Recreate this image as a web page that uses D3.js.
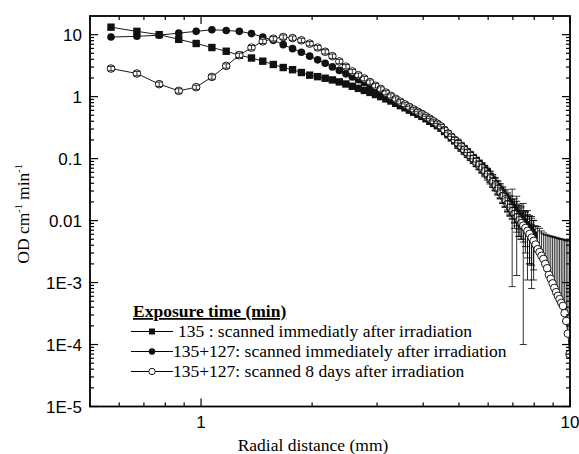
<!DOCTYPE html>
<html>
<head>
<meta charset="utf-8">
<script src="https://cdn.jsdelivr.net/npm/d3@7"></script>
<style>
  body { margin: 0; background: #fff; }
  svg { display: block; }
  .serif { font-family: 'Liberation Serif', 'Times New Roman', Times, serif; }
  .sans { font-family: 'Liberation Sans', Arial, Helvetica, sans-serif; }
</style>
</head>
<body>
<svg id="chart" width="579" height="454"></svg>
<script>
// radial distance (mm), sampled every 0.1 mm
const radius = [0.57, 0.67, 0.77, 0.87, 0.97, 1.07, 1.17, 1.27, 1.37, 1.47,
  1.57, 1.67, 1.77, 1.87, 1.97, 2.07, 2.17, 2.27, 2.37, 2.47,
  2.57, 2.67, 2.77, 2.87, 2.97, 3.07, 3.17, 3.27, 3.37, 3.47,
  3.57, 3.67, 3.77, 3.87, 3.97, 4.07, 4.17, 4.27, 4.37, 4.47,
  4.57, 4.67, 4.77, 4.87, 4.97, 5.07, 5.17, 5.27, 5.37, 5.47,
  5.57, 5.67, 5.77, 5.87, 5.97, 6.07, 6.17, 6.27, 6.37, 6.47,
  6.57, 6.67, 6.77, 6.87, 6.97, 7.07, 7.17, 7.27, 7.37, 7.47,
  7.57, 7.67, 7.77, 7.87, 7.97, 8.07, 8.17, 8.27, 8.37, 8.47,
  8.57, 8.67, 8.77, 8.87, 8.97, 9.07, 9.17, 9.27, 9.37, 9.47,
  9.57, 9.67, 9.77, 9.87, 9.97];

// 135 min, scanned immediately
const od135 = [13.2, 11.3, 10.0, 8.4, 7.2, 6.2, 5.4, 4.65, 4.2, 3.73,
  3.3, 2.95, 2.72, 2.45, 2.22, 2.1, 1.98, 1.86, 1.73, 1.6,
  1.47, 1.36, 1.26, 1.17, 1.08, 1.0, 0.92, 0.85, 0.78, 0.715,
  0.66, 0.605, 0.56, 0.52, 0.48, 0.44, 0.40, 0.37, 0.34, 0.31,
  0.274, 0.243, 0.216, 0.193, 0.172, 0.154, 0.139, 0.124, 0.111, 0.0996,
  0.0895, 0.0805, 0.0727, 0.0657, 0.0594, 0.0518, 0.0452, 0.0394, 0.0346, 0.0303,
  0.0266, 0.0235, 0.0208, 0.0185, 0.0164, 0.0146, 0.0130, 0.0116, 0.0105, 0.0095,
  0.0086, 0.0078, 0.0070, 0.0064, 0.0058];
const err135 = [0, 0, 0, 0, 0, 0, 0, 0, 0, 0,
  0, 0, 0, 0, 0, 0, 0, 0, 0, 0,
  0, 0, 0, 0, 0, 0, 0, 0, 0, 0,
  0, 0, 0, 0, 0, 0, 0, 0, 0, 0,
  0, 0, 0, 0, 0.025, 0.022, 0.02, 0.019, 0.017, 0.015,
  0.014, 0.013, 0.012, 0.011, 0.010, 0.010, 0.009, 0.008, 0.0075, 0.007,
  0.0068, 0.0065, 0.006, 0.0058, 0.0055, 0.0055, 0.0117, 0.006, 0.0055, 0.005,
  0.0048, 0.0067, 0.005, 0.0045, 0.0042];

// 135+127 min, scanned immediately
const od262 = [9.15, 9.4, 9.8, 10.6, 11.3, 12.0, 11.7, 11.3, 10.4, 9.15,
  8.1, 6.9, 5.95, 5.2, 4.5, 3.92, 3.45, 3.02, 2.65, 2.33,
  2.08, 1.87, 1.69, 1.51, 1.35, 1.22, 1.09, 0.99, 0.9, 0.82,
  0.745, 0.68, 0.62, 0.565, 0.52, 0.47, 0.43, 0.395, 0.36, 0.325,
  0.285, 0.25, 0.222, 0.198, 0.176, 0.157, 0.14, 0.125, 0.112, 0.1,
  0.09, 0.081, 0.073, 0.066, 0.059, 0.052, 0.045, 0.04, 0.035, 0.031,
  0.027, 0.024, 0.021, 0.0185, 0.0165, 0.015, 0.0135, 0.012, 0.011, 0.0095,
  0.0085, 0.0075, 0.0068, 0.0062, 0.0056];
const err262 = [0, 0, 0, 0, 0, 0, 0, 0, 0, 0,
  0, 0, 0, 0, 0, 0, 0, 0, 0, 0,
  0, 0, 0, 0, 0, 0, 0, 0, 0, 0,
  0, 0, 0, 0, 0, 0, 0, 0, 0, 0,
  0, 0, 0, 0, 0.03, 0.026, 0.024, 0.021, 0.019, 0.017,
  0.016, 0.014, 0.013, 0.012, 0.011, 0.011, 0.01, 0.0095, 0.009, 0.0085,
  0.008, 0.0075, 0.007, 0.0068, 0.01564, 0.0075, 0.007, 0.0065, 0.006, 0.0094,
  0.0055, 0.005, 0.0048, 0.0054, 0.0045];

// 135+127 min, scanned 8 days later
const od262late = [2.84, 2.36, 1.59, 1.24, 1.42, 2.08, 3.13, 4.66, 6.18, 7.8,
  8.6, 9.15, 8.8, 8.1, 7.17, 6.2, 5.3, 4.5, 3.7, 3.05,
  2.55, 2.22, 1.96, 1.72, 1.5, 1.33, 1.16, 1.03, 0.92, 0.83,
  0.75, 0.68, 0.62, 0.57, 0.525, 0.48, 0.44, 0.4, 0.365, 0.33,
  0.29, 0.255, 0.225, 0.2, 0.178, 0.158, 0.14, 0.125, 0.112, 0.1,
  0.089, 0.079, 0.07, 0.062, 0.055, 0.048, 0.042, 0.037, 0.0325, 0.0285,
  0.025, 0.022, 0.0185, 0.0163, 0.0143, 0.0128, 0.0113, 0.0101, 0.0091, 0.0083,
  0.0076, 0.0068, 0.0061, 0.0053, 0.0047, 0.0041, 0.00345, 0.0031, 0.0027, 0.0024,
  0.0020, 0.0017, 0.00133, 0.00115, 0.00097, 0.00082, 0.0007, 0.00061, 0.00054, 0.00047,
  0.00042, 0.00032, 0.00024, 0.00015, 0.00007];
const errLowLate = [0.23, 0.19, 0.13, 0.10, 0.11, 0.17, 0.25, 0.37, 0.49, 0.62,
  0.69, 0.73, 0.70, 0.65, 0.57, 0.50, 0.42, 0.36, 0.30, 0.24,
  0.20, 0.18, 0.16, 0.14, 0.12, 0.11, 0.09, 0.08, 0.074, 0.066,
  0.06, 0.054, 0.05, 0.046, 0.042, 0.038, 0.035, 0.032, 0.029, 0.026,
  0.029, 0.026, 0.023, 0.02, 0.018, 0.016, 0.015, 0.014, 0.013, 0.012,
  0.014, 0.013, 0.012, 0.011, 0.010, 0.009, 0.008, 0.007, 0.0065, 0.006,
  0.0062, 0.0056, 0.0048, 0.0042, 0.0038, 0.0034, 0.0031, 0.0028, 0, 0,
  0, 0, 0, 0, 0, 0, 0, 0, 0, 0,
  0, 0, 0, 0, 0, 0, 0, 0, 0, 0,
  0, 0, 0, 0, 0];
const errHighLate = [0.23, 0.19, 0.13, 0.10, 0.11, 0.17, 0.25, 0.37, 0.49, 0.62,
  0.69, 0.73, 0.70, 0.65, 0.57, 0.50, 0.42, 0.36, 0.30, 0.24,
  0.20, 0.18, 0.16, 0.14, 0.12, 0.11, 0.09, 0.08, 0.074, 0.066,
  0.06, 0.054, 0.05, 0.046, 0.042, 0.038, 0.035, 0.032, 0.029, 0.026,
  0.029, 0.026, 0.023, 0.02, 0.018, 0.016, 0.015, 0.014, 0.013, 0.012,
  0.014, 0.013, 0.012, 0.011, 0.010, 0.009, 0.008, 0.007, 0.0065, 0.006,
  0.0062, 0.0056, 0.0048, 0.0042, 0.0038, 0.0034, 0.0031, 0.0028, 0.004, 0.0037,
  0.0029, 0.0027, 0.0027, 0.0032, 0.0035, 0.0041, 0.00455, 0.0044, 0.0041, 0.0039,
  0.0040, 0.0041, 0.00437, 0.00445, 0.00453, 0.00458, 0.0046, 0.00459, 0.00456, 0.00453,
  0.00458, 0.00458, 0.00456, 0.00455, 0.00463];

const yMajor = [1e-5, 1e-4, 1e-3, 0.01, 0.1, 1, 10];
const yMajorLabels = ['1E-5', '1E-4', '1E-3', '0.01', '0.1', '1', '10'];
const xMajor = [1, 10];
const xMajorLabels = ['1', '10'];
const legendTitle = 'Exposure time (min)';
const legendLabels = ['135 : scanned immediatly after irradiation',
  '135+127: scanned immediately after irradiation',
  '135+127: scanned 8 days after irradiation'];

const svg = d3.select('#chart');
const L = 90, R = 570, T = 16, B = 406.5;
const x = d3.scaleLog().domain([0.5, 10]).range([L, R]);
const y = d3.scaleLog().domain([1e-5, 20]).range([B, T]);

// minor tick positions from the scales
const xMinor = x.ticks(20).filter(v => !xMajor.includes(v));
const yMinor = y.ticks(60).filter(v => !yMajor.some(m => Math.abs(m - v) / m < 1e-6) && v < 20);

svg.append('defs').append('clipPath').attr('id', 'plot')
  .append('rect').attr('x', L).attr('y', T).attr('width', R - L + 1).attr('height', B - T);

const plot = svg.append('g').attr('clip-path', 'url(#plot)');

function series(vals) {
  return vals.map((v, i) => ({ x: radius[i], y: v, i }));
}

const line = d3.line().x(d => x(d.x)).y(d => y(d.y));

function drawBars(g, pts, lo, hi) {
  pts.forEach(d => {
    const l = lo[d.i], h = hi[d.i];
    if (!l && !h) return;
    const y0 = y(Math.max(d.y - l, 1e-5)), y1 = y(d.y + h), cx = x(d.x);
    g.append('line').attr('x1', cx).attr('x2', cx).attr('y1', y0).attr('y2', y1);
    g.append('line').attr('x1', cx - 3.5).attr('x2', cx + 3.5).attr('y1', y1).attr('y2', y1);
    if (l) g.append('line').attr('x1', cx - 3.5).attr('x2', cx + 3.5).attr('y1', y0).attr('y2', y0);
  });
}

const s1 = series(od135), s2 = series(od262), s3 = series(od262late);

// error bars of the filled series, behind everything
const barsBack = plot.append('g').attr('stroke', '#000').attr('stroke-width', 0.8);
drawBars(barsBack, s2, err262, err262);
drawBars(barsBack, s1, err135, err135);
drawBars(barsBack, s3.filter(d => !errLowLate[d.i]), errLowLate, errHighLate);

[s2, s1, s3].forEach(s => {
  plot.append('path').datum(s).attr('d', line)
    .attr('fill', 'none').attr('stroke', '#000').attr('stroke-width', 0.9);
});

plot.append('g').selectAll('circle').data(s2).join('circle')
  .attr('cx', d => x(d.x)).attr('cy', d => y(d.y)).attr('r', 3.8).attr('fill', '#111');

plot.append('g').selectAll('rect').data(s1).join('rect')
  .attr('x', d => x(d.x) - 3.7).attr('y', d => y(d.y) - 3.7)
  .attr('width', 7.4).attr('height', 7.4).attr('fill', '#111');

plot.append('g').selectAll('circle').data(s3).join('circle')
  .attr('cx', d => x(d.x)).attr('cy', d => y(d.y)).attr('r', 3.8)
  .attr('fill', '#fff').attr('stroke', '#000').attr('stroke-width', 0.9);

// small bars drawn over the open markers (the crossed look)
const barsFront = plot.append('g').attr('stroke', '#000').attr('stroke-width', 0.8);
drawBars(barsFront, s3.filter(d => errLowLate[d.i]), errLowLate, errHighLate);

// frame and inward ticks on all four sides
const axes = svg.append('g').attr('stroke', '#000').attr('stroke-width', 1.2);
xMinor.forEach(v => {
  axes.append('line').attr('x1', x(v)).attr('x2', x(v)).attr('y1', B).attr('y2', B - 4);
  axes.append('line').attr('x1', x(v)).attr('x2', x(v)).attr('y1', T).attr('y2', T + 4);
});
xMajor.forEach(v => {
  axes.append('line').attr('x1', x(v)).attr('x2', x(v)).attr('y1', B).attr('y2', B - 8);
  axes.append('line').attr('x1', x(v)).attr('x2', x(v)).attr('y1', T).attr('y2', T + 8);
});
yMinor.forEach(v => {
  axes.append('line').attr('x1', L).attr('x2', L + 4).attr('y1', y(v)).attr('y2', y(v));
  axes.append('line').attr('x1', R).attr('x2', R - 4).attr('y1', y(v)).attr('y2', y(v));
});
yMajor.forEach(v => {
  axes.append('line').attr('x1', L).attr('x2', L + 8).attr('y1', y(v)).attr('y2', y(v));
  axes.append('line').attr('x1', R).attr('x2', R - 8).attr('y1', y(v)).attr('y2', y(v));
});
svg.append('rect').attr('x', L).attr('y', T).attr('width', R - L).attr('height', B - T)
  .attr('fill', 'none').attr('stroke', '#000').attr('stroke-width', 1.8);

// tick labels
svg.append('g').attr('class', 'sans').selectAll('text').data(yMajor).join('text')
  .attr('x', L - 8).attr('y', d => y(d)).attr('dy', '0.36em')
  .attr('text-anchor', 'end').attr('font-size', 17)
  .text((d, i) => yMajorLabels[i]);
svg.append('g').attr('class', 'sans').selectAll('text').data(xMajor).join('text')
  .attr('x', d => x(d)).attr('y', 428)
  .attr('text-anchor', 'middle').attr('font-size', 17)
  .text((d, i) => xMajorLabels[i]);

// axis titles
svg.append('text').attr('class', 'serif').attr('x', 313).attr('y', 451).attr('text-anchor', 'middle')
  .attr('font-size', 17.5).text('Radial distance (mm)');

const yt = svg.append('text').attr('class', 'serif').attr('transform', 'translate(29,214) rotate(-90)')
  .attr('text-anchor', 'middle').attr('font-size', 17.5);
yt.append('tspan').text('OD cm');
yt.append('tspan').attr('dy', -7).attr('font-size', 10).text('-1');
yt.append('tspan').attr('dy', 7).text(' min');
yt.append('tspan').attr('dy', -7).attr('font-size', 10).text('-1');

// legend
const lg = svg.append('g').attr('class', 'serif').attr('font-size', 17.5);
lg.append('text').attr('x', 133).attr('y', 317).attr('font-weight', 'bold')
  .attr('text-decoration', 'underline').text(legendTitle);
const rows = [337, 357, 377];
const textX = [178, 173, 173];
rows.forEach((ry, i) => {
  const my = ry - 5.5;
  lg.append('line').attr('x1', 131).attr('x2', 173).attr('y1', my).attr('y2', my)
    .attr('stroke', '#000').attr('stroke-width', 1);
  if (i === 0) {
    lg.append('rect').attr('x', 149).attr('y', my - 3).attr('width', 6).attr('height', 6).attr('fill', '#111');
  } else if (i === 1) {
    lg.append('circle').attr('cx', 152).attr('cy', my).attr('r', 3.2).attr('fill', '#111');
  } else {
    lg.append('circle').attr('cx', 152).attr('cy', my).attr('r', 3.2)
      .attr('fill', '#fff').attr('stroke', '#000').attr('stroke-width', 0.9);
  }
  lg.append('text').attr('x', textX[i]).attr('y', ry).text(legendLabels[i]);
});
</script>
</body>
</html>
